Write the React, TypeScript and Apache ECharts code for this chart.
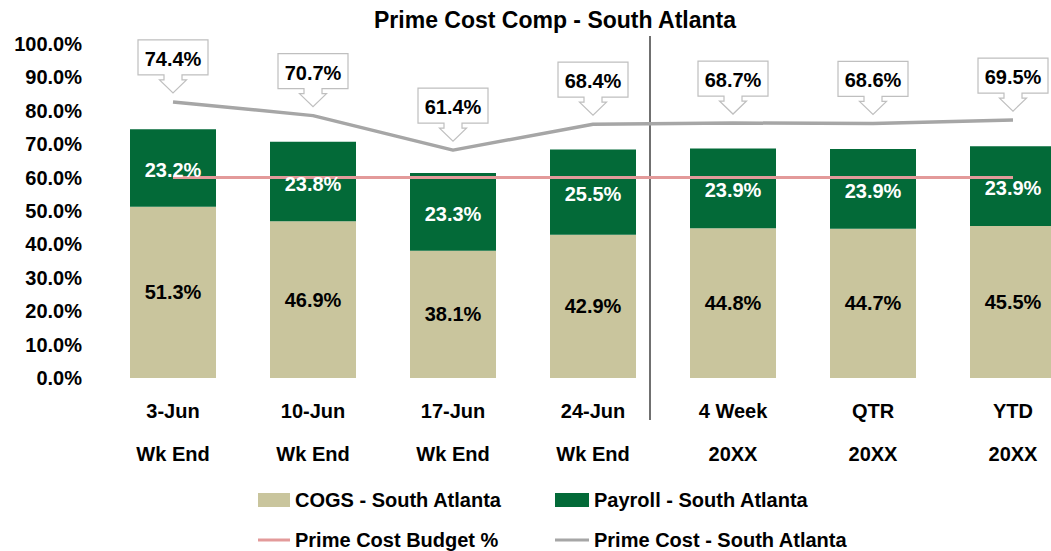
import React, { useEffect, useRef } from "react";
import * as echarts from "echarts";

const categories = ["3-Jun", "10-Jun", "17-Jun", "24-Jun", "4 Week", "QTR", "YTD"];
const subLabels = ["Wk End", "Wk End", "Wk End", "Wk End", "20XX", "20XX", "20XX"];
const cogs = [51.3, 46.9, 38.1, 42.9, 44.8, 44.7, 45.5];
const payroll = [23.2, 23.8, 23.3, 25.5, 23.9, 23.9, 23.9];
const budget = [60, 60, 60, 60, 60, 60, 60];
const primeCost = [74.4, 70.7, 61.4, 68.4, 68.7, 68.6, 69.5];

const FONT = "'Liberation Sans', Arial, sans-serif";
const pct = (v: number) => v.toFixed(1) + "%";

export default function App() {
  const ref = useRef<HTMLDivElement>(null);
  useEffect(() => {
    document.body.style.margin = "0";
    document.body.style.overflow = "hidden";
    const chart = echarts.init(ref.current!, null, { renderer: "svg" });
    const legendText = { fontSize: 20, fontWeight: "bold", color: "#000", fontFamily: FONT, lineHeight: 20 };
    chart.setOption({
      animation: false,
      textStyle: { fontFamily: FONT, fontWeight: "bold" },
      title: {
        text: "Prime Cost Comp - South Atlanta",
        left: 369,
        top: 3,
        textStyle: { fontSize: 23, fontWeight: "bold", color: "#000", fontFamily: FONT },
      },
      grid: { left: 103, top: 44, width: 980, height: 334 },
      legend: [
        { data: ["COGS - South Atlanta"], left: 258, top: 490, itemWidth: 32, itemHeight: 14, textStyle: legendText, icon: "rect", padding: 0 },
        { data: ["Payroll - South Atlanta"], left: 555, top: 490, itemWidth: 34, itemHeight: 14, textStyle: legendText, icon: "rect", padding: 0 },
        { data: ["Prime Cost Budget %"], left: 258, top: 530, itemWidth: 32, itemHeight: 3, textStyle: legendText, icon: "rect", padding: 0 },
        { data: ["Prime Cost - South Atlanta"], left: 555, top: 530, itemWidth: 34, itemHeight: 3, textStyle: legendText, icon: "rect", padding: 0 },
      ],
      xAxis: {
        type: "category",
        data: categories,
        axisLine: { show: false },
        axisTick: { show: false },
        axisLabel: {
          margin: 11,
          fontSize: 20,
          fontWeight: "bold",
          color: "#000",
          fontFamily: FONT,
          lineHeight: 43,
          formatter: (v: string) => v + "\n" + subLabels[categories.indexOf(v)],
        },
      },
      yAxis: [
        {
          type: "value",
          min: 0,
          max: 100,
          interval: 10,
          splitLine: { show: false },
          axisLine: { show: false },
          axisTick: { show: false },
          axisLabel: { margin: 21, fontSize: 20, fontWeight: "bold", color: "#000", fontFamily: FONT, formatter: (v: number) => pct(v) },
        },
        { type: "value", min: 0, max: 90, show: false, splitLine: { show: false } },
      ],
      graphic: [
        { type: "line", shape: { x1: 650, y1: 36, x2: 650, y2: 420 }, style: { stroke: "#404040", lineWidth: 1.5 } },
      ],
      series: [
        {
          name: "COGS - South Atlanta",
          type: "bar",
          stack: "pc",
          data: cogs,
          barWidth: 86,
          itemStyle: { color: "#C9C59D" },
          label: { show: true, position: "inside", color: "#000", fontSize: 20, fontWeight: "bold", fontFamily: FONT, formatter: (p: any) => pct(p.value) },
        },
        {
          name: "Payroll - South Atlanta",
          type: "bar",
          stack: "pc",
          data: payroll,
          barWidth: 86,
          itemStyle: { color: "#036A38" },
          label: { show: false },
        },
        {
          name: "Prime Cost Budget %",
          type: "line",
          data: budget,
          symbol: "none",
          lineStyle: { color: "#E39A9A", width: 3 },
          itemStyle: { color: "#E39A9A" },
          z: 4,
        },
        {
          name: "payrollLabels",
          type: "custom",
          z: 5,
          clip: false,
          data: payroll.map((v, i) => [i, cogs[i] + v / 2, v]),
          renderItem: (params: any, api: any) => {
            const p = api.coord([api.value(0), api.value(1)]);
            return {
              type: "text",
              x: p[0],
              y: p[1] + 2,
              style: {
                text: pct(payroll[params.dataIndex]),
                fill: "#fff",
                font: "bold 20px " + FONT,
                align: "center",
                verticalAlign: "middle",
              },
            };
          },
        },
        {
          name: "Prime Cost - South Atlanta",
          type: "line",
          yAxisIndex: 1,
          data: primeCost,
          symbol: "none",
          lineStyle: { color: "#A6A6A6", width: 3.5 },
          itemStyle: { color: "#A6A6A6" },
          z: 5,
        },
        {
          name: "callouts",
          type: "custom",
          yAxisIndex: 1,
          clip: false,
          z: 6,
          data: primeCost.map((v, i) => [i, v]),
          renderItem: (params: any, api: any) => {
            const p = api.coord([api.value(0), api.value(1)]);
            const x = p[0];
            const tipY = p[1] - 9;
            const rel = [
              [-35, -53], [35, -53], [35, -18], [9, -18], [9, -13], [13.5, -13],
              [0, 0], [-13.5, -13], [-9, -13], [-9, -18], [-35, -18],
            ];
            const pts = rel.map(([dx, dy]) => [x + dx, tipY + dy]);
            return {
              type: "group",
              children: [
                { type: "polygon", shape: { points: pts }, style: { fill: "#fff", stroke: "#BFBFBF", lineWidth: 1.2 } },
                {
                  type: "text",
                  x: x,
                  y: tipY - 34,
                  style: {
                    text: pct(primeCost[params.dataIndex]),
                    fill: "#000",
                    font: "bold 20px " + FONT,
                    align: "center",
                    verticalAlign: "middle",
                  },
                },
              ],
            };
          },
        },
      ],
    });
    return () => chart.dispose();
  }, []);
  return (
    <div style={{ width: 1051, height: 551, overflow: "hidden" }}>
      <div ref={ref} style={{ width: 1090, height: 551 }} />
    </div>
  );
}
